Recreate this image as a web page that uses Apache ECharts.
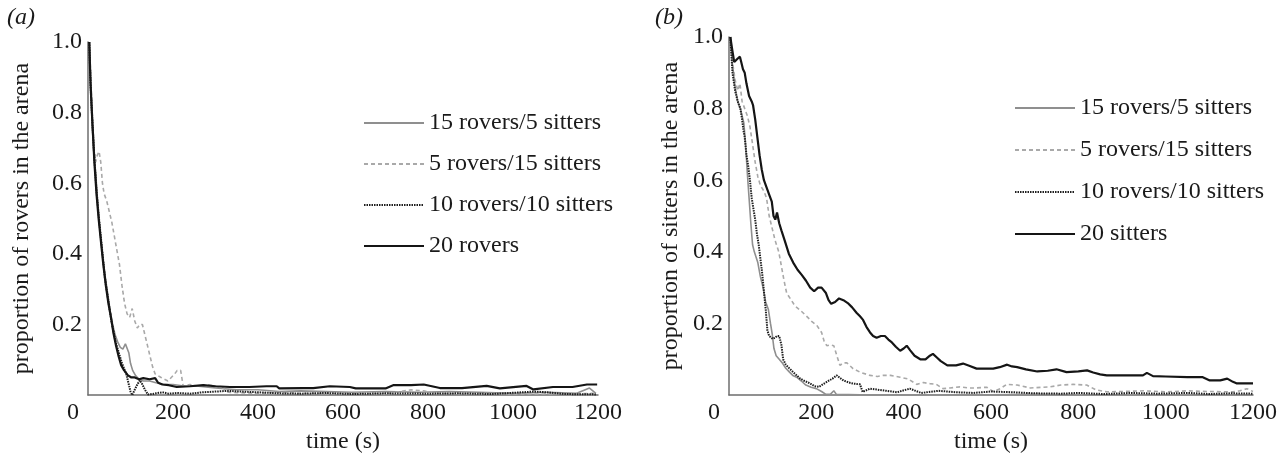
<!DOCTYPE html>
<html>
<head>
<meta charset="utf-8">
<script src="https://cdn.jsdelivr.net/npm/echarts@6/dist/echarts.min.js"></script>
<style>
html,body{margin:0;padding:0;background:#fff;}
#c{width:1288px;height:459px;}
</style>
</head>
<body>
<div id="c"></div>
<script>
// ---------- data ----------
const xTicks = [0, 200, 400, 600, 800, 1000, 1200];
const yTicks = [0.2, 0.4, 0.6, 0.8, 1.0];

const legendA = ['15 rovers/5 sitters', '5 rovers/15 sitters', '10 rovers/10 sitters', '20 rovers'];
const legendB = ['15 rovers/5 sitters', '5 rovers/15 sitters', '10 rovers/10 sitters', '20 sitters'];

// panel (a): proportion of rovers in the arena, [time (s), proportion]
const a15r5s = [[3,1.0],[6,0.9],[10,0.76],[14,0.68],[18,0.63],[22,0.56],[28,0.47],[34,0.4],[40,0.34],[46,0.29],[52,0.24],[58,0.2],[64,0.17],[70,0.15],[76,0.135],[82,0.13],[88,0.145],[92,0.14],[96,0.12],[100,0.09],[105,0.07],[112,0.055],[120,0.045],[130,0.04],[145,0.04],[160,0.035],[180,0.03],[200,0.03],[230,0.025],[260,0.025],[300,0.02],[350,0.015],[400,0.015],[450,0.01],[500,0.012],[560,0.01],[620,0.008],[700,0.01],[780,0.008],[850,0.01],[920,0.008],[1000,0.005],[1080,0.008],[1150,0.005],[1180,0.02],[1195,0.005]];
const a5r15s = [[3,1.0],[6,0.92],[10,0.8],[14,0.7],[18,0.66],[22,0.68],[26,0.69],[30,0.66],[34,0.6],[38,0.57],[44,0.55],[50,0.52],[56,0.49],[62,0.45],[68,0.41],[74,0.37],[80,0.31],[86,0.26],[92,0.23],[98,0.22],[104,0.245],[110,0.21],[116,0.19],[122,0.2],[128,0.2],[134,0.17],[140,0.14],[146,0.11],[152,0.08],[158,0.06],[165,0.055],[172,0.05],[180,0.045],[188,0.04],[196,0.05],[204,0.06],[210,0.07],[218,0.07],[224,0.025],[240,0.03],[260,0.025],[280,0.03],[300,0.025],[318,0.02],[330,0.008],[400,0.005],[450,0.008],[500,0.005],[560,0.005],[600,0.003],[650,0.005],[700,0.003],[760,0.015],[790,0.012],[820,0.005],[900,0.003],[1000,0.003],[1100,0.003],[1190,0.005]];
const a10r10s = [[3,1.0],[6,0.88],[10,0.78],[15,0.67],[20,0.58],[25,0.51],[30,0.45],[35,0.39],[40,0.33],[45,0.29],[50,0.25],[55,0.21],[60,0.18],[65,0.15],[70,0.13],[75,0.11],[80,0.09],[85,0.075],[90,0.06],[95,0.035],[100,0.01],[104,0.0],[110,0.015],[116,0.03],[122,0.042],[128,0.03],[134,0.015],[141,0.002],[150,0.003],[160,0.005],[175,0.008],[190,0.004],[210,0.006],[240,0.004],[270,0.008],[300,0.01],[330,0.012],[360,0.01],[400,0.008],[450,0.005],[500,0.004],[560,0.006],[620,0.003],[700,0.005],[800,0.004],[870,0.005],[950,0.003],[1050,0.01],[1080,0.008],[1120,0.003],[1195,0.002]];
const a20r = [[3,1.0],[6,0.88],[10,0.78],[15,0.66],[20,0.57],[25,0.5],[30,0.44],[36,0.37],[42,0.31],[48,0.26],[54,0.22],[60,0.175],[66,0.14],[72,0.11],[78,0.085],[85,0.07],[94,0.056],[102,0.05],[110,0.05],[120,0.045],[130,0.048],[145,0.045],[158,0.048],[165,0.035],[175,0.03],[190,0.028],[209,0.023],[240,0.025],[271,0.028],[300,0.025],[334,0.023],[380,0.023],[420,0.025],[444,0.025],[450,0.019],[506,0.02],[530,0.02],[569,0.025],[616,0.023],[630,0.019],[700,0.019],[718,0.028],[760,0.028],[790,0.03],[828,0.02],[880,0.02],[938,0.026],[969,0.019],[1032,0.026],[1048,0.016],[1094,0.023],[1140,0.023],[1174,0.03],[1198,0.03]];

// panel (b): proportion of sitters in the arena, [time (s), proportion]
const b15r5s = [[3,1.0],[8,0.92],[14,0.86],[20,0.82],[26,0.8],[30,0.8],[34,0.76],[38,0.7],[42,0.62],[46,0.55],[50,0.48],[54,0.42],[58,0.4],[62,0.395],[66,0.37],[72,0.33],[78,0.3],[84,0.26],[90,0.24],[95,0.2],[99,0.17],[103,0.13],[108,0.11],[115,0.1],[122,0.09],[130,0.075],[138,0.065],[146,0.055],[155,0.05],[165,0.04],[176,0.028],[188,0.022],[200,0.018],[212,0.01],[222,0.002],[232,0.002],[240,0.012],[246,0.002],[300,0.001],[400,0.001],[500,0.001],[600,0.001],[700,0.002],[800,0.001],[900,0.001],[1000,0.001],[1100,0.001],[1200,0.001]];
const b5r15s = [[3,1.0],[8,0.93],[14,0.88],[20,0.85],[25,0.87],[30,0.82],[36,0.8],[42,0.78],[48,0.75],[54,0.7],[60,0.65],[66,0.61],[72,0.585],[80,0.57],[86,0.55],[92,0.5],[98,0.47],[106,0.43],[114,0.4],[120,0.36],[126,0.32],[132,0.285],[140,0.27],[148,0.255],[155,0.245],[165,0.235],[178,0.22],[190,0.205],[201,0.195],[212,0.175],[218,0.15],[224,0.138],[232,0.14],[240,0.138],[247,0.11],[254,0.083],[262,0.09],[270,0.09],[284,0.074],[300,0.064],[323,0.055],[340,0.052],[353,0.055],[370,0.055],[392,0.05],[410,0.045],[430,0.03],[445,0.035],[460,0.032],[475,0.03],[490,0.018],[506,0.02],[529,0.023],[550,0.02],[567,0.02],[590,0.022],[605,0.01],[621,0.018],[636,0.03],[660,0.028],[690,0.02],[735,0.023],[760,0.028],[788,0.03],[819,0.028],[840,0.015],[865,0.009],[900,0.01],[950,0.012],[1002,0.009],[1050,0.012],[1100,0.01],[1154,0.009],[1170,0.012],[1186,0.018],[1200,0.01]];
const b10r10s = [[3,1.0],[8,0.9],[14,0.85],[20,0.82],[26,0.8],[30,0.77],[33,0.74],[36,0.72],[40,0.67],[44,0.64],[48,0.6],[52,0.55],[56,0.52],[60,0.49],[64,0.45],[68,0.42],[72,0.38],[76,0.34],[80,0.29],[84,0.24],[88,0.18],[92,0.165],[96,0.16],[100,0.157],[105,0.16],[110,0.165],[115,0.165],[120,0.14],[124,0.1],[130,0.085],[138,0.075],[147,0.064],[155,0.055],[163,0.046],[172,0.04],[185,0.033],[196,0.025],[206,0.023],[215,0.03],[224,0.037],[237,0.046],[247,0.055],[254,0.048],[262,0.041],[275,0.035],[285,0.032],[300,0.03],[306,0.009],[323,0.018],[360,0.012],[385,0.008],[414,0.018],[440,0.006],[480,0.012],[520,0.008],[560,0.006],[600,0.01],[650,0.008],[700,0.005],[760,0.004],[800,0.006],[860,0.003],[920,0.006],[980,0.004],[1050,0.006],[1100,0.003],[1150,0.005],[1200,0.004]];
const b20s = [[3,1.0],[8,0.96],[12,0.93],[16,0.935],[20,0.94],[25,0.945],[28,0.93],[32,0.91],[36,0.9],[40,0.87],[46,0.835],[52,0.82],[55,0.81],[60,0.77],[65,0.72],[70,0.67],[75,0.63],[80,0.6],[86,0.58],[92,0.56],[98,0.54],[102,0.5],[106,0.49],[110,0.51],[115,0.48],[120,0.46],[128,0.43],[137,0.395],[147,0.37],[157,0.35],[167,0.335],[176,0.32],[186,0.3],[195,0.29],[204,0.3],[212,0.3],[222,0.285],[228,0.265],[234,0.255],[243,0.26],[252,0.27],[262,0.265],[272,0.257],[282,0.245],[292,0.23],[300,0.22],[307,0.21],[315,0.19],[323,0.175],[330,0.165],[338,0.16],[348,0.165],[357,0.165],[365,0.155],[373,0.147],[382,0.135],[392,0.124],[400,0.13],[407,0.138],[415,0.125],[425,0.11],[438,0.1],[450,0.1],[460,0.11],[467,0.115],[476,0.105],[485,0.095],[500,0.083],[520,0.083],[536,0.088],[550,0.082],[567,0.074],[585,0.074],[605,0.074],[620,0.078],[637,0.085],[648,0.08],[660,0.078],[680,0.072],[706,0.066],[730,0.068],[750,0.072],[773,0.064],[800,0.066],[820,0.069],[834,0.063],[850,0.058],[865,0.055],[900,0.055],[948,0.055],[957,0.062],[971,0.053],[1000,0.052],[1050,0.05],[1085,0.05],[1101,0.041],[1125,0.041],[1141,0.046],[1154,0.037],[1162,0.033],[1200,0.033]];

// ---------- styling ----------
const FONT = 'Liberation Serif';
const FS = 24;
const TXT = '#1a1a1a';
const AXC = '#6e6e6e';

const styles = {
  '15 rovers/5 sitters': {color: '#8f8f8f', width: 1.6, type: 'solid'},
  '5 rovers/15 sitters': {color: '#a9a9a9', width: 1.6, type: [4, 3]},
  '10 rovers/10 sitters': {color: '#1f1f1f', width: 2, type: [1.5, 1]},
  '20 rovers': {color: '#151515', width: 2.2, type: 'solid'},
  '20 sitters': {color: '#151515', width: 2.2, type: 'solid'}
};

function mkSeries(name, data, idx) {
  const s = styles[name];
  return {
    name: name, type: 'line', data: data,
    xAxisIndex: idx, yAxisIndex: idx,
    symbol: 'none', showSymbol: false, animation: false,
    lineStyle: {color: s.color, width: s.width, type: s.type},
    itemStyle: {color: s.color},
    z: name.indexOf('20') === 0 ? 5 : 3
  };
}

function xAxis(idx) {
  return {
    type: 'value', gridIndex: idx, min: 0, max: 1200, interval: 200,
    name: 'time (s)', nameLocation: 'middle', nameGap: 25,
    nameTextStyle: {fontFamily: FONT, fontSize: FS, color: TXT},
    axisLine: {show: true, lineStyle: {color: AXC, width: 1.5}},
    axisTick: {show: false}, splitLine: {show: false},
    axisLabel: {
      fontFamily: FONT, fontSize: FS, color: TXT, margin: 6,
      formatter: function (v) { return v === 0 ? '{z|0}' : String(v); },
      rich: {z: {fontFamily: FONT, fontSize: FS, color: TXT, padding: [0, 30, 0, 0]}}
    }
  };
}

function yAxis(idx, name, gap) {
  return {
    type: 'value', gridIndex: idx, min: 0, max: 1, interval: 0.2,
    name: name, nameLocation: 'middle', nameGap: gap, nameRotate: 90,
    nameTextStyle: {fontFamily: FONT, fontSize: FS, color: TXT},
    axisLine: {show: true, onZero: false, lineStyle: {color: AXC, width: 1.5}},
    axisTick: {show: false}, splitLine: {show: false},
    axisLabel: {
      fontFamily: FONT, fontSize: FS, color: TXT, margin: 6,
      formatter: function (v) { return v === 0 ? '' : v.toFixed(1); }
    }
  };
}

function legend(names, left, top, gap) {
  return {
    data: names, orient: 'vertical', left: left, top: top,
    padding: 0,
    itemWidth: 60, itemHeight: 20, itemGap: gap,
    selectedMode: false,
    itemStyle: {color: 'rgba(0,0,0,0)', borderColor: 'rgba(0,0,0,0)', borderWidth: 0, opacity: 0},
    textStyle: {fontFamily: FONT, fontSize: FS, color: TXT, lineHeight: 24}
  };
}

const chart = echarts.init(document.getElementById('c'), null, {renderer: 'canvas'});
chart.setOption({
  backgroundColor: '#ffffff',
  animation: false,
  grid: [
    {left: 88, top: 42, width: 510, height: 358},
    {left: 729, top: 37, width: 524, height: 363}
  ],
  xAxis: [xAxis(0), xAxis(1)],
  yAxis: [
    yAxis(0, 'proportion of rovers in the arena', 54),
    yAxis(1, 'proportion of sitters in the arena', 46)
  ],
  legend: [legend(legendA, 363, 111, 17), legend(legendB, 1014, 96, 18)],
  graphic: [
    {type: 'text', left: 7, top: 6, style: {text: '(a)', font: 'italic 24px "Liberation Serif"', fill: TXT}},
    {type: 'text', left: 655, top: 6, style: {text: '(b)', font: 'italic 24px "Liberation Serif"', fill: TXT}}
  ],
  series: [
    mkSeries('15 rovers/5 sitters', a15r5s, 0),
    mkSeries('5 rovers/15 sitters', a5r15s, 0),
    mkSeries('10 rovers/10 sitters', a10r10s, 0),
    mkSeries('20 rovers', a20r, 0),
    mkSeries('15 rovers/5 sitters', b15r5s, 1),
    mkSeries('5 rovers/15 sitters', b5r15s, 1),
    mkSeries('10 rovers/10 sitters', b10r10s, 1),
    mkSeries('20 sitters', b20s, 1)
  ]
});
</script>
</body>
</html>
